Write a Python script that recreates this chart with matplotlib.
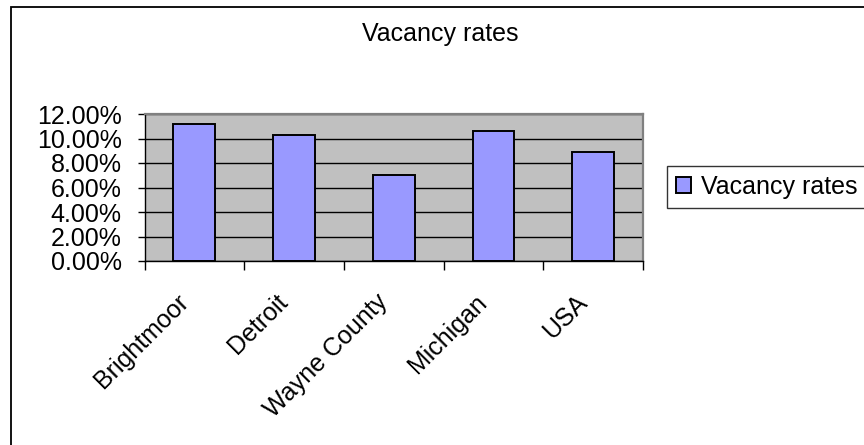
import matplotlib.pyplot as plt
import matplotlib.patches as patches
from matplotlib.ticker import PercentFormatter, MultipleLocator
from matplotlib.transforms import ScaledTranslation

# data
places = ['Brightmoor', 'Detroit', 'Wayne County', 'Michigan', 'USA']
vacancy = [0.1115, 0.1031, 0.0704, 0.1064, 0.0892]
series_name = 'Vacancy rates'
title = 'Vacancy rates'

plt.rcParams['font.family'] = ['Liberation Sans', 'DejaVu Sans']
fs = 18

fig = plt.figure(figsize=(8.64, 4.45), dpi=100)
W, H = 864, 445

# chart frame (runs off the right and bottom edge)
fig.patches.append(patches.Rectangle((10.5 / W, -0.2), 1.2, 1.2 - 6.5 / H,
                                     transform=fig.transFigure, fill=False,
                                     edgecolor='black', linewidth=1.3))

ax = fig.add_axes([144.5 / W, 1 - 261 / H, (643 - 144.5) / W, (261 - 114) / H])
ax.set_facecolor('#C0C0C0')
ax.set_axisbelow(True)

x = range(len(places))
bars = ax.bar(x, vacancy, width=0.42, color='#9999FF', edgecolor='black',
              linewidth=1.4, label=series_name)

ax.set_xlim(-0.5, len(places) - 0.5)
ax.set_ylim(0, 0.12)
ax.yaxis.set_major_locator(MultipleLocator(0.02))
ax.yaxis.set_major_formatter(PercentFormatter(1.0, decimals=2))
ax.grid(axis='y', color='black', linewidth=1.0)

# spines
for s in ['top', 'right']:
    ax.spines[s].set_color('#808080')
    ax.spines[s].set_linewidth(1.6)
for s in ['left', 'bottom']:
    ax.spines[s].set_color('black')
    ax.spines[s].set_linewidth(1.0)

ax.tick_params(axis='y', direction='out', length=5, width=1, pad=11.5, labelsize=fs)

# category ticks sit on the boundaries, labels on the centres
ax.set_xticks([i - 0.5 for i in range(len(places) + 1)], minor=True)
ax.set_xticks(list(x))
ax.set_xticklabels(places, rotation=45, ha='right', va='center',
                   rotation_mode='anchor', fontsize=fs)
ax.tick_params(axis='x', which='minor', direction='out', length=6.5, width=1)
ax.tick_params(axis='x', which='major', length=0, pad=27)
shift = ScaledTranslation(-10 / 100, 0, fig.dpi_scale_trans)
for lab in ax.get_xticklabels():
    lab.set_transform(lab.get_transform() + shift)

fig.text(440 / W, 1 - 34 / H, title, ha='center', va='center', fontsize=fs)

leg = fig.legend(handles=[bars], labels=[series_name], loc='upper left',
                 bbox_to_anchor=(667 / W, 1 - 166 / H), fontsize=fs,
                 frameon=True, fancybox=False, edgecolor='black',
                 borderpad=0.35, borderaxespad=0, handlelength=0.62,
                 handleheight=0.62, handletextpad=0.38)
leg.get_frame().set_linewidth(1.0)

fig.savefig('out.png', dpi=100)
